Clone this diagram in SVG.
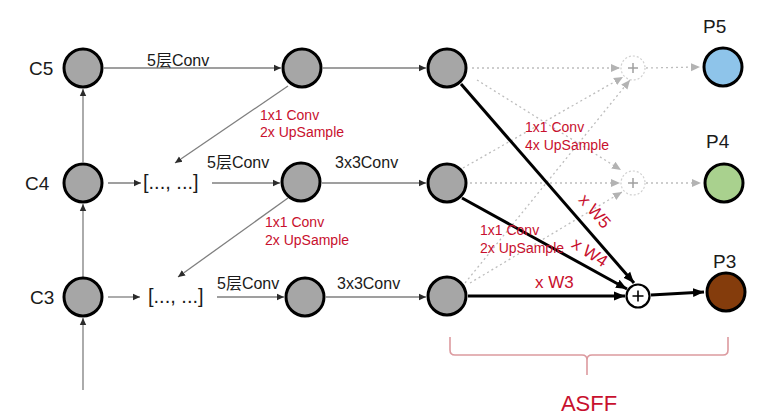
<svg xmlns="http://www.w3.org/2000/svg" width="769" height="420" viewBox="0 0 769 420">
<style>
.bg{fill:#ffffff}
.node{fill:#a6a6a6;stroke:#000;stroke-width:3}
.lbl{font-family:"Liberation Sans","Noto Sans CJK SC",sans-serif;fill:#1a1a1a}
.big{font-size:19px}
.mid{font-size:16px}
.br{font-size:20px}
.red{font-family:"Liberation Sans","Noto Sans CJK SC",sans-serif;fill:#c8102e;font-size:14px}
.w{font-size:17px}
.thin{stroke:#7f7f7f;stroke-width:1.3;fill:none}
.dot{stroke:#bdbdbd;stroke-width:1.3;stroke-dasharray:2 3;fill:none}
.thick{stroke:#000;stroke-width:3;fill:none}
.brace{stroke:#dc9a9f;stroke-width:1.6;fill:none}
</style>
<defs>
<marker id="ag" markerWidth="8" markerHeight="8" refX="7" refY="4" orient="auto" markerUnits="userSpaceOnUse">
<path d="M0,0.8 L7,4 L0,7.2 Z" fill="#2b2b2b"/>
</marker>
<marker id="ad" markerWidth="10" markerHeight="10" refX="9" refY="5" orient="auto" markerUnits="userSpaceOnUse">
<path d="M0,1 L9,5 L0,9 Z" fill="#b3b3b3"/>
</marker>
<marker id="ab" markerWidth="12" markerHeight="12" refX="11" refY="6" orient="auto" markerUnits="userSpaceOnUse">
<path d="M0,1.5 L11,6 L0,10.5 Z" fill="#000"/>
</marker>
</defs>
<rect class="bg" x="0" y="0" width="769" height="420"/>

<g id="connectors">
<line class="thin" x1="104" y1="68" x2="281" y2="68" marker-end="url(#ag)"/>
<line class="thin" x1="323" y1="68" x2="426" y2="68" marker-end="url(#ag)"/>
<line class="thin" x1="288" y1="86" x2="175" y2="163" marker-end="url(#ag)"/>
<line class="thin" x1="108" y1="183" x2="141" y2="183" marker-end="url(#ag)"/>
<line class="thin" x1="212" y1="183" x2="280" y2="183" marker-end="url(#ag)"/>
<line class="thin" x1="322" y1="183" x2="426" y2="183" marker-end="url(#ag)"/>
<line class="thin" x1="288" y1="198" x2="178" y2="277" marker-end="url(#ag)"/>
<line class="thin" x1="108" y1="297" x2="140" y2="297" marker-end="url(#ag)"/>
<line class="thin" x1="217" y1="297" x2="284" y2="297" marker-end="url(#ag)"/>
<line class="thin" x1="326" y1="297" x2="426" y2="297" marker-end="url(#ag)"/>
<line class="thin" x1="83" y1="277" x2="83" y2="204" marker-end="url(#ag)"/>
<line class="thin" x1="83" y1="162" x2="83" y2="89" marker-end="url(#ag)"/>
<line class="thin" x1="83" y1="390" x2="83" y2="318" marker-end="url(#ag)"/>

<line class="dot" x1="472" y1="68" x2="620" y2="68" marker-end="url(#ad)"/>
<line class="dot" x1="477" y1="80" x2="621" y2="170" marker-end="url(#ad)"/>
<line class="dot" x1="463" y1="168" x2="623" y2="77" marker-end="url(#ad)"/>
<line class="dot" x1="470" y1="183" x2="620" y2="183" marker-end="url(#ad)"/>
<line class="dot" x1="465" y1="283" x2="630" y2="80" marker-end="url(#ad)"/>
<line class="dot" x1="470" y1="283" x2="622" y2="192" marker-end="url(#ad)"/>
<line class="dot" x1="646" y1="68" x2="700" y2="67" marker-end="url(#ad)"/>
<line class="dot" x1="646" y1="183" x2="701" y2="183" marker-end="url(#ad)"/>

<line class="thick" x1="461" y1="84" x2="634" y2="283" marker-end="url(#ab)"/>
<line class="thick" x1="462" y1="198" x2="627" y2="289" marker-end="url(#ab)"/>
<line class="thick" x1="468" y1="296" x2="625" y2="296" marker-end="url(#ab)"/>
<line class="thick" x1="651" y1="295" x2="704" y2="292" marker-end="url(#ab)"/>

<text class="lbl mid" x="147" y="66">5层Conv</text>
<text class="lbl mid" x="207" y="168">5层Conv</text>
<text class="lbl mid" x="335" y="168">3x3Conv</text>
<text class="lbl mid" x="217" y="289">5层Conv</text>
<text class="lbl mid" x="337" y="289">3x3Conv</text>
<text class="red" x="260" y="120">1x1 Conv</text>
<text class="red" x="260" y="137">2x UpSample</text>
<text class="red" x="265" y="227">1x1 Conv</text>
<text class="red" x="265" y="245">2x UpSample</text>
<text class="red" x="525" y="132">1x1 Conv</text>
<text class="red" x="525" y="150">4x UpSample</text>
<text class="red" x="480" y="235">1x1 Conv</text>
<text class="red" x="480" y="253">2x UpSample</text>
<text class="red w" x="535" y="288">x W3</text>
<text class="red w" text-anchor="middle" transform="translate(595,211) rotate(49)" x="0" y="6">x W5</text>
<text class="red w" text-anchor="middle" transform="translate(590,252) rotate(33)" x="0" y="6">x W4</text>
</g>

<g id="C5"><text class="lbl big" x="29" y="75">C5</text><circle class="node" cx="83" cy="68" r="19"/></g>
<g id="C4"><text class="lbl big" x="25" y="190">C4</text><circle class="node" cx="83" cy="183" r="19"/></g>
<g id="C3"><text class="lbl big" x="30" y="304">C3</text><circle class="node" cx="83" cy="297" r="19"/></g>
<g id="cat4"><text class="lbl br" x="143" y="189">[..., ...]</text></g>
<g id="cat3"><text class="lbl br" x="148" y="303">[..., ...]</text></g>
<g id="n5b"><circle class="node" cx="302" cy="68" r="19"/></g>
<g id="n4b"><circle class="node" cx="301" cy="182" r="19"/></g>
<g id="n3b"><circle class="node" cx="305" cy="297" r="19"/></g>
<g id="n5c"><circle class="node" cx="447" cy="68" r="19"/></g>
<g id="n4c"><circle class="node" cx="447" cy="183" r="19"/></g>
<g id="n3c"><circle class="node" cx="447" cy="296" r="19"/></g>
<g id="plus5"><circle cx="633" cy="68" r="12" fill="none" stroke="#d0d0d0" stroke-width="1.2" stroke-dasharray="2 2"/><path d="M628,68 H638 M633,63 V73" stroke="#a0a0a0" stroke-width="1.5"/></g>
<g id="plus4"><circle cx="633" cy="183" r="12" fill="none" stroke="#d0d0d0" stroke-width="1.2" stroke-dasharray="2 2"/><path d="M628,183 H638 M633,178 V188" stroke="#a0a0a0" stroke-width="1.5"/></g>
<g id="plus3"><circle cx="638" cy="296" r="11.5" fill="#fff" stroke="#000" stroke-width="2.2"/><path d="M632.5,296 H643.5 M638,290.5 V301.5" stroke="#000" stroke-width="1.6"/></g>
<g id="P5"><text class="lbl big" x="703" y="33">P5</text><circle cx="723" cy="67" r="19" fill="#8ec4ea" stroke="#000" stroke-width="3"/></g>
<g id="P4"><text class="lbl big" x="706" y="148">P4</text><circle cx="724" cy="183" r="19" fill="#a9d18e" stroke="#000" stroke-width="3"/></g>
<g id="P3"><text class="lbl big" x="713" y="268">P3</text><circle cx="726" cy="292" r="19" fill="#843c0c" stroke="#000" stroke-width="3"/></g>
<g id="ASFF">
<path class="brace" d="M450,337 V350 Q450,355 455,355 H582 Q587,355 587,360 V375 M728,337 V350 Q728,355 723,355 H592 Q587,355 587,360"/>
<text x="589" y="411" text-anchor="middle" font-family="Liberation Sans, sans-serif" font-size="22" fill="#c8102e">ASFF</text>
</g>
</svg>
